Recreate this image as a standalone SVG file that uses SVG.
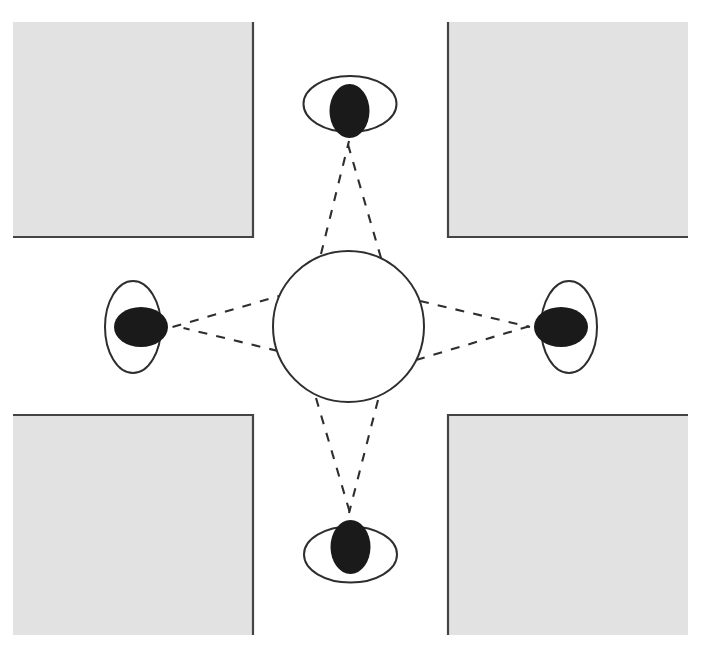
<svg xmlns="http://www.w3.org/2000/svg" width="706" height="665" viewBox="0 0 706 665">
<style>
.block{fill:#e2e2e2;stroke:none}
.edge{fill:none;stroke:#444;stroke-width:2.2}
.outer{fill:#fff;stroke:#2e2e2e;stroke-width:2}
.pupil{fill:#1a1a1a;stroke:none}
.sight{fill:none;stroke:#2e2e2e;stroke-width:2.1;stroke-dasharray:9 9.2}
</style>
<rect width="706" height="665" fill="#fff"/>
<g id="block-top-left"><rect class="block" x="13" y="22" width="240" height="215"/><path class="edge" d="M13 237H253V22"/></g>
<g id="block-top-right"><rect class="block" x="448" y="22" width="240" height="215"/><path class="edge" d="M688 237H448V22"/></g>
<g id="block-bottom-left"><rect class="block" x="13" y="415" width="240" height="220"/><path class="edge" d="M13 415H253V635"/></g>
<g id="block-bottom-right"><rect class="block" x="448" y="415" width="240" height="220"/><path class="edge" d="M688 415H448V635"/></g>
<g id="connectors">
<path class="sight" d="M321 254L349 141"/>
<path class="sight" d="M381 258L347 141"/>
<path class="sight" d="M172.500 327L279 296"/>
<path class="sight" d="M278 351L183.500 328"/>
<path class="sight" d="M420 301L530 327"/>
<path class="sight" d="M416 360L530 326"/>
<path class="sight" d="M316 398L350 513"/>
<path class="sight" d="M378 400L349 513"/>
</g>
<g id="center"><circle class="outer" cx="348.5" cy="326.5" r="75.5"/></g>
<g id="eye-top"><ellipse class="outer" cx="350" cy="104" rx="46.500" ry="28"/><ellipse class="pupil" cx="349.5" cy="111" rx="20" ry="27"/></g>
<g id="eye-left"><ellipse class="outer" cx="133" cy="327" rx="28" ry="46"/><ellipse class="pupil" cx="141" cy="327" rx="27" ry="20"/></g>
<g id="eye-right"><ellipse class="outer" cx="569" cy="327" rx="28" ry="46"/><ellipse class="pupil" cx="561" cy="327" rx="27" ry="20"/></g>
<g id="eye-bottom"><ellipse class="outer" cx="350.5" cy="554.5" rx="46.500" ry="28"/><ellipse class="pupil" cx="350.5" cy="547" rx="20" ry="27"/></g>
</svg>
